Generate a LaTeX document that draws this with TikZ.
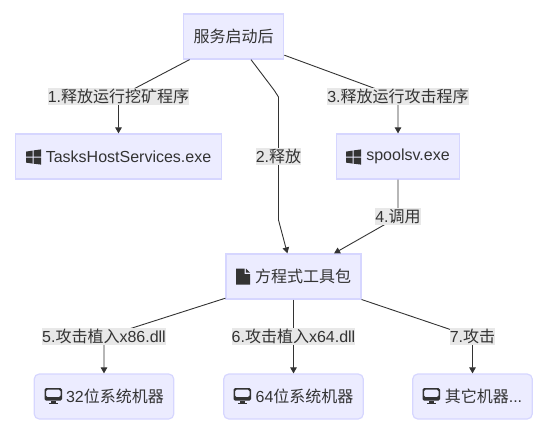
\documentclass[tikz,border=0pt]{standalone}
\usepackage{fontspec}
\setmainfont{Liberation Sans}
\newfontfamily\cjk{Noto Sans CJK SC}
\usetikzlibrary{arrows.meta}
\definecolor{nodefill}{HTML}{ECECFF}
\definecolor{nodeline}{HTML}{D6D6FF}
\definecolor{labelbg}{HTML}{E8E8E8}
\definecolor{ink}{HTML}{333333}
\tikzset{
  base/.style={draw=nodeline,fill=nodefill,line width=1.2pt,text=ink,inner sep=0pt,minimum height=45pt,font=\fontsize{16}{19}\selectfont},
  box/.style={base},
  rbox/.style={base,rounded corners=5pt},
  elabel/.style={fill=labelbg,text=ink,inner sep=0pt,minimum height=17pt,font=\fontsize{16}{19}\selectfont},
  edge/.style={draw=ink,line width=0.9pt},
  arrowedge/.style={edge,-{Triangle[length=6pt,width=6.5pt]}},
  pics/winicon/.style={code={
    \fill[ink] (0,1.6) -- (6.6,0.6) -- (6.6,6.6) -- (0,6.6) -- cycle;
    \fill[ink] (7.6,0.4) -- (15,-0.6) -- (15,6.6) -- (7.6,6.6) -- cycle;
    \fill[ink] (0,7.6) -- (6.6,7.6) -- (6.6,13.6) -- (0,12.6) -- cycle;
    \fill[ink] (7.6,7.6) -- (15,7.6) -- (15,14.6) -- (7.6,13.7) -- cycle;
  }},
  pics/fileicon/.style={code={
    \fill[ink] (0,0) -- (8.5,0) -- (8.5,5.5) -- (14,5.5) -- (14,16) -- (0,16) -- cycle;
    \fill[ink] (9.8,0) -- (14,4.2) -- (9.8,4.2) -- cycle;
  }},
  pics/screenicon/.style={code={
    \fill[ink,rounded corners=1.5pt,even odd rule] (0,0) rectangle (17.5,12.5) (1.5,1.5) rectangle (16,9);
    \fill[ink] (6,12.5) rectangle (11.5,14.5);
    \fill[ink] (4.5,14.5) rectangle (13,15.5);
  }},
}
\begin{document}
\begin{tikzpicture}[x=1pt,y=-1pt]
\useasboundingbox (0,0) rectangle (548,434);
% nodes
\node[box,minimum width=100.5pt] (top) at (233.5,36.5) {\cjk 服务启动后};
\node[box,minimum width=205.5pt] (tasks) at (118.5,156.5) {\hspace{20pt}TasksHostServices.exe};
\node[box,minimum width=123.5pt] (spool) at (398,156.5) {\hspace{20pt}spoolsv.exe};
\node[box,minimum width=135pt] (tool) at (293.5,276.5) {\hspace{19pt}{\cjk 方程式工具包}};
\node[rbox,minimum width=139.5pt] (m32) at (104,396.5) {\hspace{22pt}32{\cjk 位系统机器}};
\node[rbox,minimum width=139.5pt] (m64) at (293.5,396.5) {\hspace{22pt}64{\cjk 位系统机器}};
\node[rbox,minimum width=119.5pt] (mother) at (472.5,396.5) {\hspace{22pt}{\cjk 其它机器}...};
% bends
\coordinate (c1) at (118.5,97);
\coordinate (c2a) at (274,90);
\coordinate (c2b) at (278.5,97);
\coordinate (c2c) at (278.5,220);
\coordinate (c3) at (398,97);
\coordinate (c4) at (398,217);
\coordinate (c5) at (104,337);
\coordinate (c7) at (472.5,337);
% connectors
\draw[arrowedge] (top) -- (c1) -- (tasks);
\draw[arrowedge] (top) -- (c2a) -- (c2b) -- (c2c) -- (tool);
\draw[arrowedge] (top) -- (c3) -- (spool);
\draw[arrowedge] (spool) -- (c4) -- (tool);
\draw[arrowedge] (tool) -- (c5) -- (m32);
\draw[arrowedge] (tool) -- (m64);
\draw[arrowedge] (tool) -- (c7) -- (mother);
% edge labels
\node[elabel] (l1) at (118.5,96.5) {1.{\cjk 释放运行挖矿程序}};
\node[elabel] (l2) at (278.5,156.5) {2.{\cjk 释放}};
\node[elabel] (l3) at (398,96.5) {3.{\cjk 释放运行攻击程序}};
\node[elabel] (l4) at (398,216.5) {4.{\cjk 调用}};
\node[elabel] (l5) at (104,336.5) {5.{\cjk 攻击植入}x86.dll};
\node[elabel] (l6) at (293.5,336.5) {6.{\cjk 攻击植入}x64.dll};
\node[elabel] (l7) at (472.5,336.5) {7.{\cjk 攻击}};
% icons
\path (26,150) pic {winicon};
\path (346,150) pic {winicon};
\path (236,268.5) pic {fileicon};
\path (44.5,388) pic {screenicon};
\path (233.5,388) pic {screenicon};
\path (422.5,388) pic {screenicon};
\end{tikzpicture}
\end{document}
